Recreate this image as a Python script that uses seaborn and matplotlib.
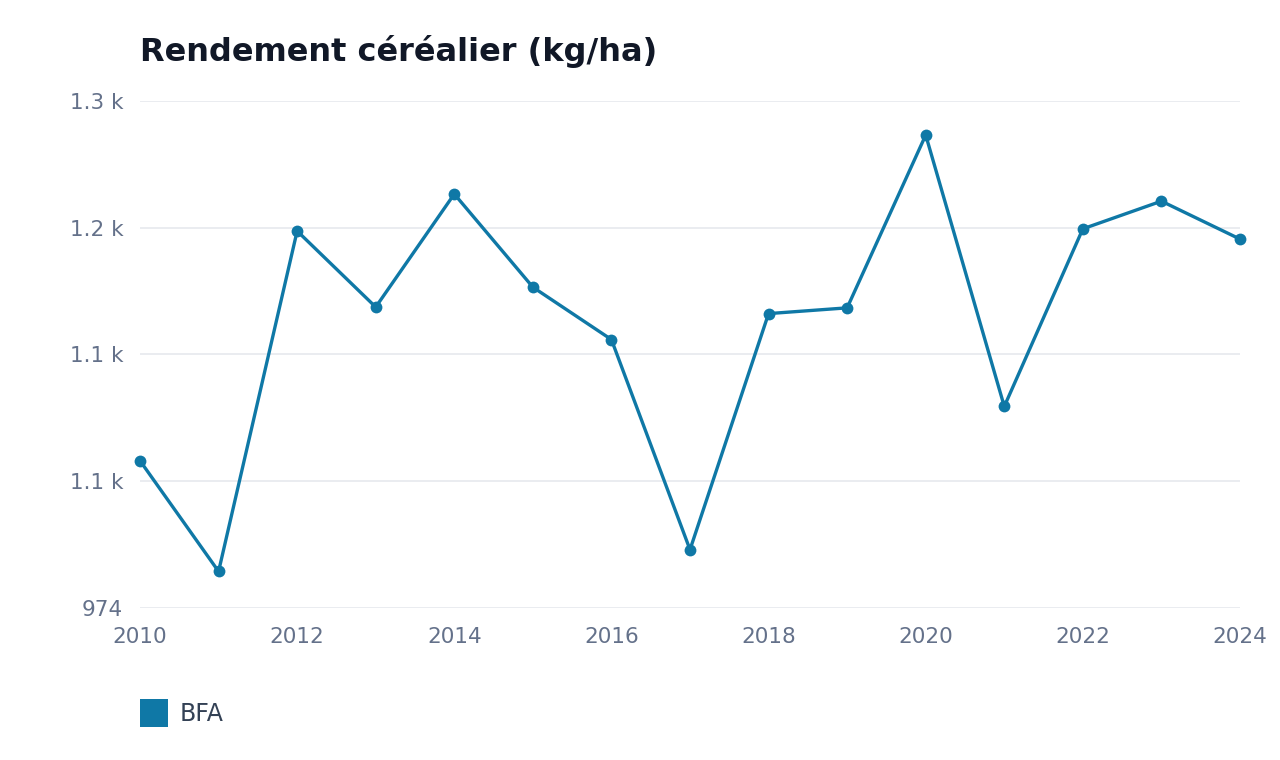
import matplotlib
matplotlib.use("Agg")
import matplotlib.pyplot as plt
from matplotlib.lines import Line2D
from matplotlib.ticker import FixedLocator, FuncFormatter
import numpy as np
import pandas as pd
import seaborn as sns

# data
years = [2010, 2011, 2012, 2013, 2014, 2015, 2016, 2017,
         2018, 2019, 2020, 2021, 2022, 2023, 2024]
rendement = [1068.7, 997.5, 1216.4, 1167.5, 1240.2, 1180.3, 1146.6, 1011.5,
             1163.3, 1167.0, 1278.1, 1103.6, 1217.8, 1235.6, 1211.2]
country = "BFA"
y_min, y_max = 974, 1300
x_ticks = [2010, 2012, 2014, 2016, 2018, 2020, 2022, 2024]

line_color = "#0f78a6"
grid_color = "#e8ebef"
tick_color = "#64718a"

df = pd.DataFrame({"year": years, "value": rendement, "pays": country})

sns.set_style("white")
plt.rcParams["font.family"] = ["DejaVu Sans"]

fig = plt.figure(figsize=(12.8, 7.6), dpi=100)
ax = fig.add_axes([140 / 1280, 1 - 608 / 760, 1100 / 1280, 507 / 760])

sns.lineplot(data=df, x="year", y="value", ax=ax, color=line_color,
             linewidth=2.4, marker="o", markersize=8.5, markeredgewidth=0,
             legend=False, clip_on=False, zorder=3)

ax.set_xlim(2010, 2024)
ax.set_ylim(y_min, y_max)

yt = np.linspace(y_min, y_max, 5)
ax.yaxis.set_major_locator(FixedLocator(yt))


def fmt(v, pos):
    if v >= 1000:
        return f"{v / 1000:.1f} k"
    return f"{v:.0f}"


ax.yaxis.set_major_formatter(FuncFormatter(fmt))
ax.set_xticks(x_ticks)
ax.set_xticklabels([str(t) for t in x_ticks])

ax.grid(axis="y", color=grid_color, linewidth=1.3)
ax.set_axisbelow(True)
for s in ax.spines.values():
    s.set_visible(False)
ax.tick_params(axis="both", length=0, labelsize=15.5, colors=tick_color)
ax.tick_params(axis="y", pad=12)
ax.tick_params(axis="x", pad=14)
ax.set_xlabel("")
ax.set_ylabel("")

fig.text(140 / 1280, 1 - 52 / 760, "Rendement céréalier (kg/ha)",
         fontsize=23, fontweight="bold", color="#111827",
         ha="left", va="center")

handle = Line2D([], [], linestyle="none", marker="s", markersize=20,
                markerfacecolor=line_color, markeredgewidth=0)
fig.legend([handle], [country], loc="center left",
           bbox_to_anchor=(131 / 1280, 1 - 714 / 760), frameon=False,
           fontsize=17, labelcolor="#334155", handlelength=0.95,
           handletextpad=0.62, borderpad=0)

fig.savefig("out.png", dpi=100)
plt.close(fig)
